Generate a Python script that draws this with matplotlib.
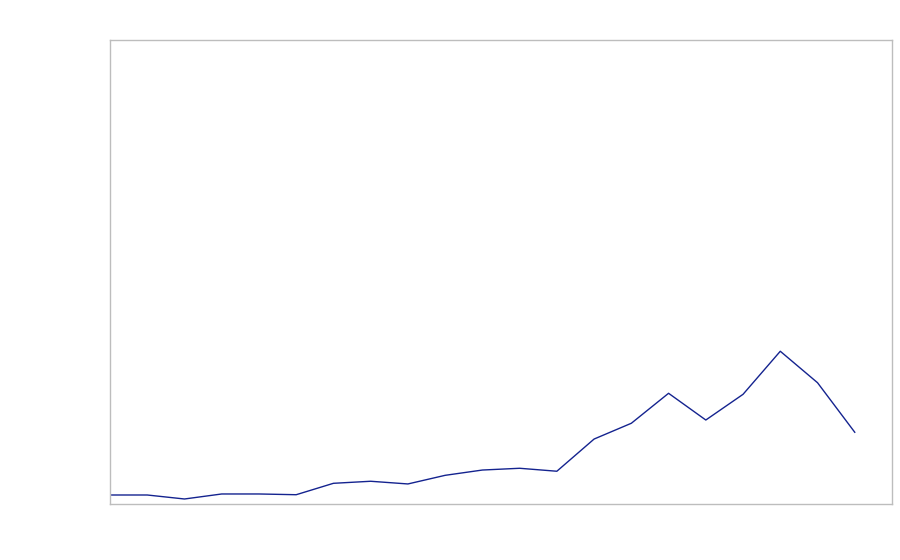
import numpy as np
import matplotlib
matplotlib.use("Agg")
import matplotlib.pyplot as plt

x = np.arange(21)
values = [9.7, 9.7, 5.4, 10.8, 10.8, 10.0, 22.3, 24.5, 21.6, 30.9, 36.6,
          38.5, 35.3, 70.0, 87.0, 119.3, 90.5, 118.2, 164.6, 130.7, 77.3]

fig = plt.figure(figsize=(9, 5.6), dpi=100)
ax = fig.add_axes([110 / 900, 56 / 560, 782 / 900, 464 / 560])
ax.plot(x, values, color="#14238f", linewidth=1.0)
ax.set_xlim(0, 21)
ax.set_ylim(0, 500)
ax.set_xticks([])
ax.set_yticks([])
for s in ax.spines.values():
    s.set_color("#bdbdbd")
    s.set_linewidth(1.0)

fig.savefig("out.png", dpi=100)
